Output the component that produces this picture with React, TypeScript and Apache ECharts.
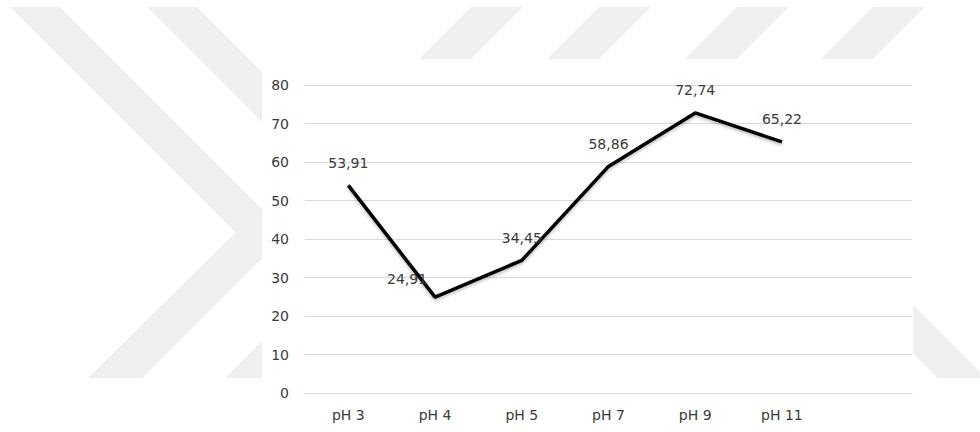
import React, { useEffect, useRef } from "react";
import * as echarts from "echarts";

const categories = ["pH 3", "pH 4", "pH 5", "pH 7", "pH 9", "pH 11", ""];
const values: (number | null)[] = [53.91, 24.91, 34.45, 58.86, 72.74, 65.22, null];
const yTicks = { min: 0, max: 80, interval: 10 };

const STRIPE = "#efefef";
const FONT = "DejaVu Sans";

export default function App() {
  const ref = useRef<HTMLDivElement>(null);
  useEffect(() => {
    if (!ref.current) return;
    const chart = echarts.init(ref.current, undefined, { renderer: "svg" });

    const poly = (pts: number[][], z: number) => ({
      type: "polygon",
      z,
      silent: true,
      shape: { points: pts },
      style: { fill: STRIPE },
    });
    const topStripes = [471, 599, 737, 873].map((a) =>
      poly([[a, 7], [a + 52, 7], [a, 59], [a - 52, 59]], -10)
    );

    const data = values.map((v, i) => {
      if (i === 1) {
        return { value: v, label: { offset: [-28, 4] } };
      }
      return { value: v };
    });

    chart.setOption({
      animation: false,
      backgroundColor: "#ffffff",
      textStyle: { fontFamily: FONT },
      graphic: [
        poly([[10, 7], [60, 7], [286.5, 233.5], [142, 378], [88, 378], [235.5, 232.5]], -10),
        poly([[147, 7], [197, 7], [423.5, 233.5], [279, 378], [225, 378], [371.5, 231.5]], -10),
        ...topStripes,
        poly([[860, 300], [908, 300], [986, 378], [938, 378]], -10),
        {
          type: "rect",
          z: -5,
          silent: true,
          shape: { x: 262, y: 59, width: 651, height: 380 },
          style: { fill: "#ffffff" },
        },
      ],
      grid: { left: 305, right: 68, top: 85, bottom: 39 },
      xAxis: {
        type: "category",
        data: categories,
        boundaryGap: true,
        axisLine: { lineStyle: { color: "#d9d9d9", width: 1 } },
        axisTick: { show: false },
        axisLabel: { color: "#3a3a3a", fontSize: 14, margin: 15, fontFamily: FONT },
        splitLine: { show: false },
      },
      yAxis: {
        type: "value",
        min: yTicks.min,
        max: yTicks.max,
        interval: yTicks.interval,
        axisLine: { show: false },
        axisTick: { show: false },
        axisLabel: { color: "#3a3a3a", fontSize: 14, margin: 16, fontFamily: FONT },
        splitLine: { lineStyle: { color: "#d9d9d9", width: 1 } },
      },
      series: [
        {
          type: "line",
          data,
          showSymbol: true,
          symbol: "circle",
          symbolSize: 1,
          itemStyle: { color: "rgba(0,0,0,0)", borderWidth: 0 },
          lineStyle: {
            color: "#000000",
            width: 3.5,
            shadowColor: "rgba(0,0,0,0.25)",
            shadowBlur: 3,
            shadowOffsetY: 2,
          },
          label: {
            show: true,
            position: "top",
            distance: 15,
            color: "#3a3a3a",
            fontSize: 14,
            fontFamily: FONT,
            formatter: (p: any) =>
              p.value == null ? "" : Number(p.value).toFixed(2).replace(".", ","),
          },
        },
      ],
    });
    return () => chart.dispose();
  }, []);

  return (
    <div
      ref={ref}
      style={{ position: "fixed", left: 0, top: 0, width: 980, height: 432 }}
    />
  );
}
